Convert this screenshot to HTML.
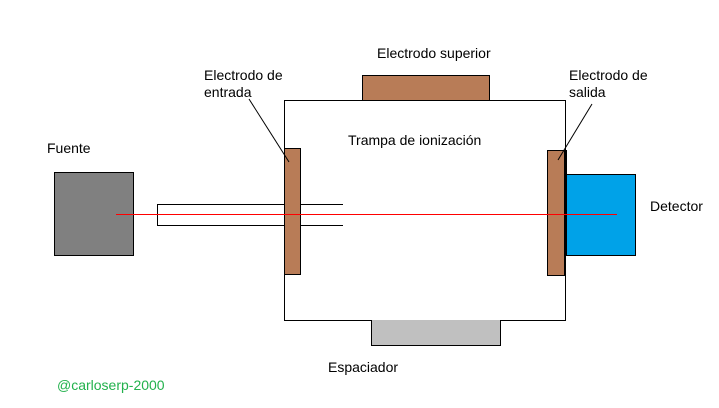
<!DOCTYPE html>
<html><head><style>
body{margin:0;width:719px;height:408px;background:#fff;overflow:hidden;position:relative;font-family:"Liberation Sans",sans-serif;font-size:14px;color:#000}
.a{position:absolute}
.t{position:absolute;line-height:17px;white-space:nowrap}
</style></head><body>
<div class="a" style="left:284px;top:100px;width:280px;height:219px;border:1px solid #000;border-left-width:1px"></div>
<div class="a" style="left:362px;top:75px;width:126px;height:24px;background:#b87c57;border:1px solid #000"></div>
<div class="a" style="left:371px;top:320px;width:128px;height:25px;background:#c0c0c0;border:1px solid #000;border-top:none"></div>
<div class="a" style="left:54px;top:172px;width:78px;height:82px;background:#808080;border:1px solid #000"></div>
<div class="a" style="left:157px;top:204px;width:185px;height:20px;border:1px solid #000;border-right:none;background:#fff"></div>
<div class="a" style="left:284px;top:148px;width:15px;height:125px;background:#b87c57;border:1px solid #000"></div>
<div class="a" style="left:547px;top:150px;width:16px;height:124px;background:#b87c57;border:1px solid #000"></div>
<div class="a" style="left:564px;top:150px;width:3px;height:106px;background:#000"></div>
<div class="a" style="left:566px;top:174px;width:68px;height:80px;background:#00a2e8;border:1px solid #000"></div>
<div class="a" style="left:116px;top:214px;width:501px;height:1px;background:#ff0000"></div>
<svg class="a" style="left:0;top:0" width="719" height="408"><line x1="249" y1="99" x2="289" y2="162" stroke="#000" stroke-width="1"/><line x1="592" y1="104" x2="558" y2="160" stroke="#000" stroke-width="1"/></svg>
<div class="t" style="left:377px;top:45px">Electrodo superior</div>
<div class="t" style="left:204px;top:67px">Electrodo de<br>entrada</div>
<div class="t" style="left:569px;top:67px">Electrodo de<br>salida</div>
<div class="t" style="left:348px;top:132px">Trampa de ionización</div>
<div class="t" style="left:47px;top:140px">Fuente</div>
<div class="t" style="left:650px;top:198px">Detector</div>
<div class="t" style="left:328px;top:359px">Espaciador</div>
<div class="t" style="left:57px;top:377px;color:#22b14c">@carloserp-2000</div>
</body></html>
